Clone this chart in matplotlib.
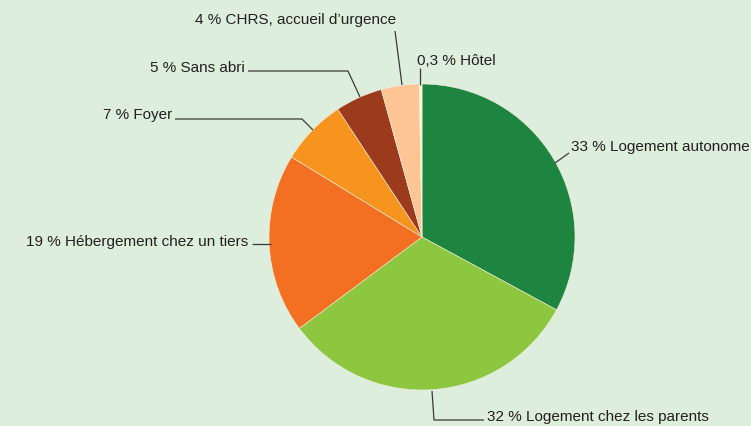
import matplotlib
matplotlib.use("Agg")
import matplotlib.pyplot as plt
from matplotlib import font_manager

# shares of each housing situation (percent), clockwise from the top
labels = ["Logement autonome", "Logement chez les parents", "Hébergement chez un tiers",
          "Foyer", "Sans abri", "CHRS, accueil d\u2019urgence", "Hôtel"]
values = [33, 32, 19, 7, 5, 4, 0.3]
value_text = ["33", "32", "19", "7", "5", "4", "0,3"]
colors = ["#1e8540", "#8dc63f", "#f36f21", "#f7941d", "#9b3a1d", "#fcc593", "#fff4d6"]

names = {f.name for f in font_manager.fontManager.ttflist}
fam = "Liberation Sans Narrow" if "Liberation Sans Narrow" in names else "Liberation Sans"

W, H = 751, 427
bg = "#deeedc"
fig = plt.figure(figsize=(W / 100, H / 100), dpi=100, facecolor=bg)
ax = fig.add_axes([0, 0, 1, 1])
ax.set_facecolor(bg)

# pie in pixel coords (y measured from the bottom)
cx, cy, r = 422, H - 238, 153
ax.pie(values, colors=colors, startangle=90, counterclock=False,
       center=(cx, cy), radius=r, frame=True,
       wedgeprops=dict(edgecolor="#f4efe0", linewidth=0.4))
ax.set_xlim(0, W)
ax.set_ylim(0, H)
ax.set_aspect("equal")
ax.axis("off")

txt = "#231f20"
lc = "#3a3a3a"

def y(v):
    return H - v

# (label index, leader line points in image px, text anchor, ha)
leaders = [
    (0, [(555, 164), (569, 154)], (571, 147), "left"),
    (1, [(432, 392), (434, 421), (484, 421)], (487, 417), "left"),
    (2, [(271, 245), (252, 245)], (248, 242), "right"),
    (3, [(313, 131), (302, 120), (175, 120)], (172, 115), "right"),
    (4, [(360, 98), (348, 72), (248, 72)], (245, 68), "right"),
    (5, [(402, 86), (395, 32)], (296, 20), "center"),
    (6, [(420, 86), (420, 69)], (417, 61), "left"),
]

for i, pts, (tx, ty), ha in leaders:
    ax.plot([p[0] for p in pts], [y(p[1]) for p in pts], color=lc, lw=0.9,
            solid_capstyle="butt")
    ax.text(tx, y(ty), f"{value_text[i]} % {labels[i]}", ha=ha, va="center",
            fontsize=11, color=txt, family=fam)

fig.savefig("out.png", dpi=100, facecolor=bg)
